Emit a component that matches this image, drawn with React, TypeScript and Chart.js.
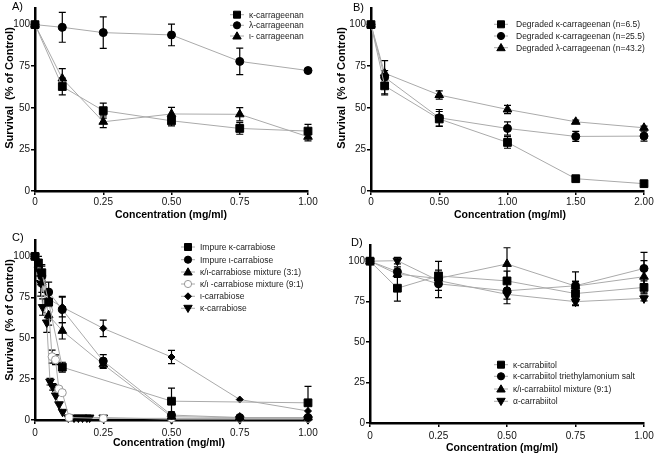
import React, { useEffect, useRef } from 'react';
import { Chart, registerables } from 'chart.js';
Chart.register(...registerables);

const FONT = '"Liberation Sans", Arial, Helvetica, sans-serif';

// ---------------- shared tick values / labels ----------------
const yTickValues = [0, 25, 50, 75, 100];
const yTickLabels = ['0', '25', '50', '75', '100'];
const xTickValues1 = [0, 0.25, 0.5, 0.75, 1];
const xTickLabels1 = ['0', '0.25', '0.50', '0.75', '1.00'];
const xTickValues2 = [0, 0.5, 1, 1.5, 2];
const xTickLabels2 = ['0', '0.50', '1.00', '1.50', '2.00'];
const yTitle = 'Survival  (% of Control)';
const xTitle = 'Concentration (mg/ml)';

// ---------------- Panel A ----------------
const aX = [0, 0.1, 0.25, 0.5, 0.75, 1.0];
const aKappa = [100, 62.8, 48.3, 42.2, 37.6, 36.0];
const aKappaErr = [0, 5, 4.5, 3, 3.5, 4];
const aLambda = [100, 98.4, 95.2, 93.8, 77.9, 72.4];
const aLambdaErr = [0, 9, 9.5, 6.5, 8, 0];
const aIota = [100, 67.6, 41.6, 46.3, 46.1, 32.6];
const aIotaErr = [0, 6, 3.5, 4, 4, 2.5];
const aLabels = ['κ-carrageenan', 'λ-carrageenan', 'ι- carrageenan'];

// ---------------- Panel B ----------------
const bX = [0, 0.1, 0.5, 1.0, 1.5, 2.0];
const bK65 = [100, 63.2, 43.3, 29.2, 7.4, 4.4];
const bK65Err = [0, 5.5, 4.5, 3.5, 1, 0];
const bK255 = [100, 68.4, 44, 37.6, 32.8, 33];
const bK255Err = [0, 10, 5, 4, 3, 3];
const bL432 = [100, 70.8, 57.7, 49, 41.6, 38];
const bL432Err = [0, 1.5, 2.5, 2.5, 1, 1];
const bLabels = [
  'Degraded κ-carrageenan (n=6.5)',
  'Degraded κ-carrageenan (n=25.5)',
  'Degraded λ-carrageenan (n=43.2)',
];

// ---------------- Panel C ----------------
const cImpKX = [0, 0.0125, 0.025, 0.05, 0.1, 0.5, 1.0];
const cImpK = [100, 96, 90, 72, 32.3, 11.5, 10.5];
const cImpKErr = [0, 4, 5, 5, 3, 8, 10];
const cImpIX = [0, 0.025, 0.05, 0.1, 0.25, 0.5, 0.75, 1.0];
const cImpI = [100, 88, 78.2, 67.5, 36, 3, 1.5, 1.5];
const cImpIErr = [0, 6, 6, 8, 4, 2, 1, 1];
const cMix31X = [0, 0.025, 0.05, 0.1, 0.25, 0.5, 0.75, 1.0];
const cMix31 = [100, 84, 64, 54.5, 34, 2, 1.5, 1.5];
const cMix31Err = [0, 6, 6, 5, 2.5, 1, 0.5, 0.5];
const cMix91X = [0, 0.025, 0.05, 0.0625, 0.075, 0.0875, 0.1, 0.125, 0.25, 0.5, 0.75, 1.0];
const cMix91 = [100, 87, 67, 38.7, 36.8, 19, 16.7, 1.5, 1, 1, 1, 1];
const cMix91Err = [0, 4, 5, 4, 3, 1, 1, 0, 0, 0, 0, 0];
const cIotaX = [0, 0.05, 0.1, 0.25, 0.5, 0.75, 1.0];
const cIota = [100, 74, 69, 56, 38.5, 12.5, 5.5];
const cIotaErr = [0, 5, 6, 5, 4, 0, 0];
const cKappaX = [0, 0.0125, 0.021, 0.028, 0.043, 0.055, 0.065, 0.076, 0.088, 0.101, 0.122, 0.143, 0.159, 0.174, 0.19, 0.2, 0.25, 0.5, 0.75, 1.0];
const cKappa = [100, 92, 83.7, 69, 59.6, 23.4, 20.3, 15, 9.6, 5, 1.5, 1.5, 1.5, 1.5, 1.5, 1.5, 1.5, 0.5, 0.5, 0.5];
const cKappaErr = [0, 4, 8, 5, 6, 2, 2, 0, 0, 0, 0, 0, 0, 0, 0, 0, 0, 0, 0, 0];
const cLabels = [
  'Impure κ-carrabiose',
  'Impure ι-carrabiose',
  'κ/ι-carrabiose mixture (3:1)',
  'κ/ι -carrabiose mixture (9:1)',
  'ι-carrabiose',
  'κ-carrabiose',
];

// ---------------- Panel D ----------------
const dX = [0, 0.1, 0.25, 0.5, 0.75, 1.0];
const dKappa = [100, 83.3, 90.9, 87.8, 80, 83.8];
const dKappaErr = [0, 8, 9, 6, 7.5, 4];
const dSalt = [100, 93.5, 86, 81.7, 84.8, 95.5];
const dSaltErr = [0, 3, 8.5, 8, 8.6, 10];
const dMix = [100, 92, 89.3, 98.3, 84.6, 90.4];
const dMixErr = [0, 2, 3, 10, 3, 10];
const dAlpha = [100, 100.3, 88, 79.5, 75, 77];
const dAlphaErr = [0, 2, 2, 3, 2, 1.5];
const dLabels = [
  'κ-carrabiitol',
  'κ-carrabiitol triethylamonium salt',
  'κ/ι-carrabiitol mixture (9:1)',
  'α-carrabiitol',
];

// ---------------- helpers ----------------
type Style = 'rect' | 'circle' | 'triangle' | 'invtri' | 'diamond' | 'open';
type Series = { label: string; xs: number[]; ys: number[]; errs: number[]; style: Style };

function pointProps(style: Style) {
  const base = { pointBackgroundColor: '#000', pointBorderColor: '#000', pointBorderWidth: 1 };
  switch (style) {
    case 'rect': return { ...base, pointStyle: 'rect', pointRadius: 5.5 };
    case 'circle': return { ...base, pointStyle: 'circle', pointRadius: 4 };
    case 'triangle': return { ...base, pointStyle: 'triangle', pointRadius: 5 };
    case 'invtri': return { ...base, pointStyle: 'triangle', pointRadius: 5, pointRotation: 180 };
    case 'diamond': return { ...base, pointStyle: 'rectRot', pointRadius: 3.5 };
    case 'open': return { pointStyle: 'circle', pointRadius: 4, pointBackgroundColor: '#fff', pointBorderColor: '#999', pointBorderWidth: 1 };
  }
}

function drawMarker(ctx: CanvasRenderingContext2D, style: Style, x: number, y: number) {
  ctx.save();
  ctx.fillStyle = '#000';
  ctx.strokeStyle = '#000';
  ctx.lineWidth = 1;
  ctx.beginPath();
  switch (style) {
    case 'rect': ctx.rect(x - 3.5, y - 3.5, 7, 7); break;
    case 'circle': ctx.arc(x, y, 3.6, 0, Math.PI * 2); break;
    case 'triangle': ctx.moveTo(x, y - 4.2); ctx.lineTo(x + 4.2, y + 3); ctx.lineTo(x - 4.2, y + 3); ctx.closePath(); break;
    case 'invtri': ctx.moveTo(x, y + 4.2); ctx.lineTo(x + 4.2, y - 3); ctx.lineTo(x - 4.2, y - 3); ctx.closePath(); break;
    case 'diamond': ctx.moveTo(x, y - 3.5); ctx.lineTo(x + 3.5, y); ctx.lineTo(x, y + 3.5); ctx.lineTo(x - 3.5, y); ctx.closePath(); break;
    case 'open': ctx.arc(x, y, 3.6, 0, Math.PI * 2); ctx.fillStyle = '#fff'; ctx.strokeStyle = '#999'; break;
  }
  ctx.fill();
  ctx.stroke();
  ctx.restore();
}

type PanelCfg = {
  id: string; x: number; y: number; w: number; h: number;
  letter: string; letterPos: [number, number];
  series: Series[];
  xMax: number; xTickValues: number[]; xTickLabels: string[];
  left: number; padRight: number; padTop: number; xHeight: number; xLabelPad: number;
  yTitlePos: [number, number] | null; xTitlePos: [number, number];
  legendMarkerX: number; legendTextX: number; legendYs: number[];
};

const errorBarPlugin = {
  id: 'errorBars',
  beforeDatasetsDraw(chart: any) {
    const ctx = chart.ctx;
    const yScale = chart.scales.y;
    ctx.save();
    ctx.strokeStyle = '#000';
    ctx.lineWidth = 1.2;
    chart.data.datasets.forEach((ds: any, di: number) => {
      const errs = ds.errors as number[];
      if (!errs) return;
      const meta = chart.getDatasetMeta(di);
      meta.data.forEach((pt: any, i: number) => {
        const e = errs[i];
        if (!e) return;
        const v = ds.data[i].y;
        const yT = yScale.getPixelForValue(v + e);
        const yB = yScale.getPixelForValue(Math.max(0, v - e));
        const x = pt.x;
        ctx.beginPath();
        ctx.moveTo(x, yT); ctx.lineTo(x, yB);
        ctx.moveTo(x - 3.5, yT); ctx.lineTo(x + 3.5, yT);
        ctx.moveTo(x - 3.5, yB); ctx.lineTo(x + 3.5, yB);
        ctx.stroke();
      });
    });
    ctx.restore();
  },
};

function overlayPlugin(cfg: PanelCfg) {
  return {
    id: 'overlay',
    afterDraw(chart: any) {
      const ctx: CanvasRenderingContext2D = chart.ctx;
      ctx.save();
      ctx.fillStyle = '#000';
      ctx.textBaseline = 'middle';
      ctx.textAlign = 'left';
      ctx.font = `11px ${FONT}`;
      ctx.fillText(cfg.letter, cfg.letterPos[0], cfg.letterPos[1]);
      if (cfg.yTitlePos) {
        ctx.save();
        ctx.translate(cfg.yTitlePos[0], cfg.yTitlePos[1]);
        ctx.rotate(-Math.PI / 2);
        ctx.font = `bold 11px ${FONT}`;
        ctx.textAlign = 'center';
        ctx.fillText(yTitle, 0, 0);
        ctx.restore();
      }
      ctx.font = `bold 10.5px ${FONT}`;
      ctx.textAlign = 'center';
      ctx.fillText(xTitle, cfg.xTitlePos[0], cfg.xTitlePos[1]);
      // legend
      ctx.font = `8.5px ${FONT}`;
      ctx.textAlign = 'left';
      cfg.series.forEach((s, i) => {
        const ly = cfg.legendYs[i];
        ctx.save();
        ctx.strokeStyle = '#aaa';
        ctx.lineWidth = 1;
        ctx.beginPath();
        ctx.moveTo(cfg.legendMarkerX - 7, ly);
        ctx.lineTo(cfg.legendMarkerX + 7, ly);
        ctx.stroke();
        ctx.restore();
        drawMarker(ctx, s.style, cfg.legendMarkerX, ly);
        ctx.fillStyle = '#222';
        ctx.fillText(s.label, cfg.legendTextX, ly + 0.5);
      });
      ctx.restore();
    },
  };
}

function buildConfig(cfg: PanelCfg): any {
  const tickFont = { family: FONT, size: 10 };
  return {
    type: 'line',
    data: {
      datasets: cfg.series.map((s) => ({
        label: s.label,
        data: s.xs.map((x, i) => ({ x, y: s.ys[i] })),
        errors: s.errs,
        borderColor: '#aaa',
        borderWidth: 1,
        tension: 0,
        fill: false,
        clip: false,
        ...pointProps(s.style),
      })),
    },
    options: {
      animation: false,
      responsive: false,
      events: [],
      layout: { padding: { left: 0, right: cfg.padRight, top: cfg.padTop, bottom: 0 } },
      plugins: { legend: { display: false }, tooltip: { enabled: false } },
      scales: {
        x: {
          type: 'linear',
          min: 0,
          max: cfg.xMax,
          afterBuildTicks: (axis: any) => { axis.ticks = cfg.xTickValues.map((v) => ({ value: v })); },
          afterFit: (s: any) => { s.height = cfg.xHeight; },
          ticks: {
            callback: (_v: any, i: number) => cfg.xTickLabels[i],
            font: tickFont, color: '#111', padding: cfg.xLabelPad, maxRotation: 0, autoSkip: false,
          },
          grid: { drawOnChartArea: false, color: '#000', lineWidth: 1.5, tickLength: 4 },
          border: { color: '#000', width: 2.5 },
        },
        y: {
          type: 'linear',
          min: 0,
          max: 110,
          afterBuildTicks: (axis: any) => { axis.ticks = yTickValues.map((v) => ({ value: v })); },
          afterFit: (s: any) => { s.width = cfg.left; },
          ticks: {
            callback: (_v: any, i: number) => yTickLabels[i],
            font: tickFont, color: '#111', padding: 1, autoSkip: false,
          },
          grid: { drawOnChartArea: false, color: '#000', lineWidth: 1.5, tickLength: 4 },
          border: { color: '#000', width: 2.5 },
        },
      },
    },
    plugins: [errorBarPlugin, overlayPlugin(cfg)],
  };
}

const panels: PanelCfg[] = [
  {
    id: 'A', x: 0, y: 0, w: 328, h: 228, letter: 'A)', letterPos: [12, 7],
    series: [
      { label: aLabels[0], xs: aX, ys: aKappa, errs: aKappaErr, style: 'rect' },
      { label: aLabels[1], xs: aX, ys: aLambda, errs: aLambdaErr, style: 'circle' },
      { label: aLabels[2], xs: aX, ys: aIota, errs: aIotaErr, style: 'triangle' },
    ],
    xMax: 1, xTickValues: xTickValues1, xTickLabels: xTickLabels1,
    left: 35, padRight: 20, padTop: 8, xHeight: 37, xLabelPad: 1,
    yTitlePos: [10, 88], xTitlePos: [171, 215],
    legendMarkerX: 237, legendTextX: 249, legendYs: [14.7, 25.3, 36],
  },
  {
    id: 'B', x: 328, y: 0, w: 329, h: 228, letter: 'B)', letterPos: [25, 7.5],
    series: [
      { label: bLabels[0], xs: bX, ys: bK65, errs: bK65Err, style: 'rect' },
      { label: bLabels[1], xs: bX, ys: bK255, errs: bK255Err, style: 'circle' },
      { label: bLabels[2], xs: bX, ys: bL432, errs: bL432Err, style: 'triangle' },
    ],
    xMax: 2, xTickValues: xTickValues2, xTickLabels: xTickLabels2,
    left: 43, padRight: 13, padTop: 8, xHeight: 37, xLabelPad: 1,
    yTitlePos: [14, 88], xTitlePos: [182, 215],
    legendMarkerX: 173, legendTextX: 188, legendYs: [24.3, 36, 47.7],
  },
  {
    id: 'C', x: 0, y: 228, w: 328, h: 228, letter: 'C)', letterPos: [12, 10],
    series: [
      { label: cLabels[0], xs: cImpKX, ys: cImpK, errs: cImpKErr, style: 'rect' },
      { label: cLabels[1], xs: cImpIX, ys: cImpI, errs: cImpIErr, style: 'circle' },
      { label: cLabels[2], xs: cMix31X, ys: cMix31, errs: cMix31Err, style: 'triangle' },
      { label: cLabels[3], xs: cMix91X, ys: cMix91, errs: cMix91Err, style: 'open' },
      { label: cLabels[4], xs: cIotaX, ys: cIota, errs: cIotaErr, style: 'diamond' },
      { label: cLabels[5], xs: cKappaX, ys: cKappa, errs: cKappaErr, style: 'invtri' },
    ],
    xMax: 1, xTickValues: xTickValues1, xTickLabels: xTickLabels1,
    left: 35, padRight: 20, padTop: 12, xHeight: 36, xLabelPad: 3,
    yTitlePos: [10, 92], xTitlePos: [169, 215],
    legendMarkerX: 188, legendTextX: 200, legendYs: [19, 31.7, 44, 56, 68.3, 80.3],
  },
  {
    id: 'D', x: 328, y: 228, w: 329, h: 228, letter: 'D)', letterPos: [23, 15],
    series: [
      { label: dLabels[0], xs: dX, ys: dKappa, errs: dKappaErr, style: 'rect' },
      { label: dLabels[1], xs: dX, ys: dSalt, errs: dSaltErr, style: 'circle' },
      { label: dLabels[2], xs: dX, ys: dMix, errs: dMixErr, style: 'triangle' },
      { label: dLabels[3], xs: dX, ys: dAlpha, errs: dAlphaErr, style: 'invtri' },
    ],
    xMax: 1, xTickValues: xTickValues1, xTickLabels: xTickLabels1,
    left: 42, padRight: 13, padTop: 17, xHeight: 33, xLabelPad: 3,
    yTitlePos: null, xTitlePos: [174, 220],
    legendMarkerX: 173, legendTextX: 185, legendYs: [136.7, 148.3, 161, 173.3],
  },
];

function Panel({ cfg }: { cfg: PanelCfg }) {
  const ref = useRef<HTMLCanvasElement | null>(null);
  useEffect(() => {
    if (!ref.current) return;
    const chart = new Chart(ref.current, buildConfig(cfg));
    return () => chart.destroy();
  }, [cfg]);
  return (
    <div style={{ position: 'absolute', left: cfg.x, top: cfg.y, width: cfg.w, height: cfg.h }}>
      <canvas ref={ref} width={cfg.w} height={cfg.h} style={{ width: cfg.w, height: cfg.h, display: 'block' }} />
    </div>
  );
}

export default function App() {
  return (
    <div style={{ position: 'absolute', left: 0, top: 0, width: 657, height: 456, background: '#fff', overflow: 'hidden' }}>
      {panels.map((p) => (
        <Panel key={p.id} cfg={p} />
      ))}
    </div>
  );
}
